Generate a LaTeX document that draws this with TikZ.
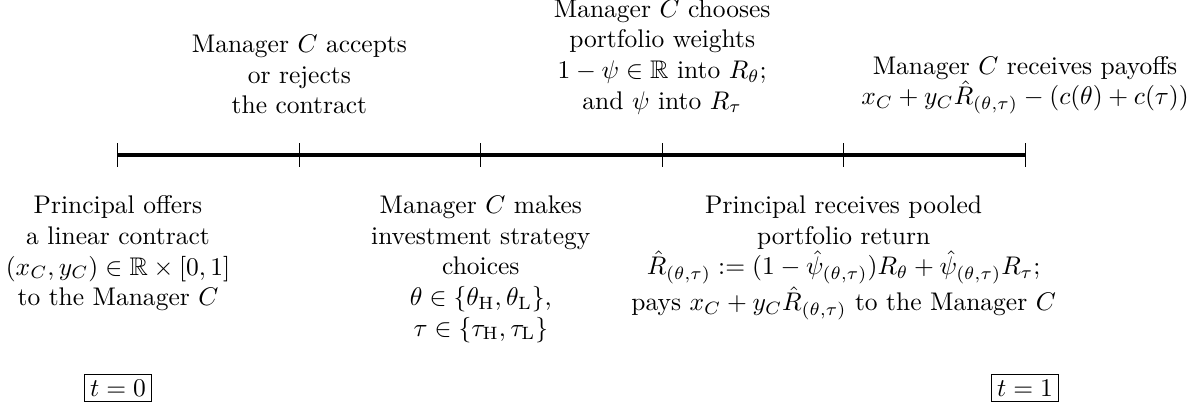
\documentclass[tikz,border=0pt]{standalone}
\usepackage{amsmath,amssymb}
\begin{document}
\begin{tikzpicture}[
  event/.style={align=center, font=\normalsize},
  upper/.style={event, anchor=south},
  lower/.style={event, anchor=north},
  timebox/.style={draw, inner sep=2pt, thin},
  tick/.style={thin},
  axis/.style={line width=1.7pt}
]
\useasboundingbox (-1.626,-3.556) rectangle (14.76,2.136);
% timeline points
\foreach \i/\x in {0/0,1/2.5,2/5,3/7.5,4/10,5/12.5}{
  \coordinate (p\i) at (\x,0);
  \coordinate (p\i u) at (\x,0.165);
  \coordinate (p\i d) at (\x,-0.165);
}
\draw[axis] (p0) -- (p5);
\foreach \i in {0,...,5}{
  \draw[tick] (p\i u) -- (p\i d);
}
% upper labels
\node[upper] (u1) at (2.5,0.44) {Manager $C$ accepts\\or rejects\\the contract};
\node[upper] (u2) at (7.5,0.44) {Manager $C$ chooses\\portfolio weights\\$1-\psi\in\mathbb{R}$ into $R_\theta$;\\and $\psi$ into $R_\tau$};
\node[upper] (u3) at (12.5,0.44) {Manager $C$ receives payoffs\\$x_C + y_C\hat{R}_{(\theta,\tau)} - (c(\theta)+c(\tau))$};
% lower labels
\node[lower] (l1) at (0,-0.44) {Principal offers\\a linear contract\\$(x_C,y_C)\in\mathbb{R}\times[0,1]$\\to the Manager $C$};
\node[lower] (l2) at (5,-0.44) {Manager $C$ makes\\investment strategy\\choices\\$\theta\in\{\theta_{\mathrm{H}},\theta_{\mathrm{L}}\}$,\\$\tau\in\{\tau_{\mathrm{H}},\tau_{\mathrm{L}}\}$};
\node[lower] (l3) at (10,-0.44) {Principal receives pooled\\portfolio return\\$\hat{R}_{(\theta,\tau)} := (1-\hat{\psi}_{(\theta,\tau)})R_\theta + \hat{\psi}_{(\theta,\tau)}R_\tau$;\\pays $x_C + y_C\hat{R}_{(\theta,\tau)}$ to the Manager $C$};
% time boxes
\node[timebox] (t0) at (0,-3.21) {$t=0$};
\node[timebox] (t1) at (12.5,-3.21) {$t=1$};
\end{tikzpicture}
\end{document}
